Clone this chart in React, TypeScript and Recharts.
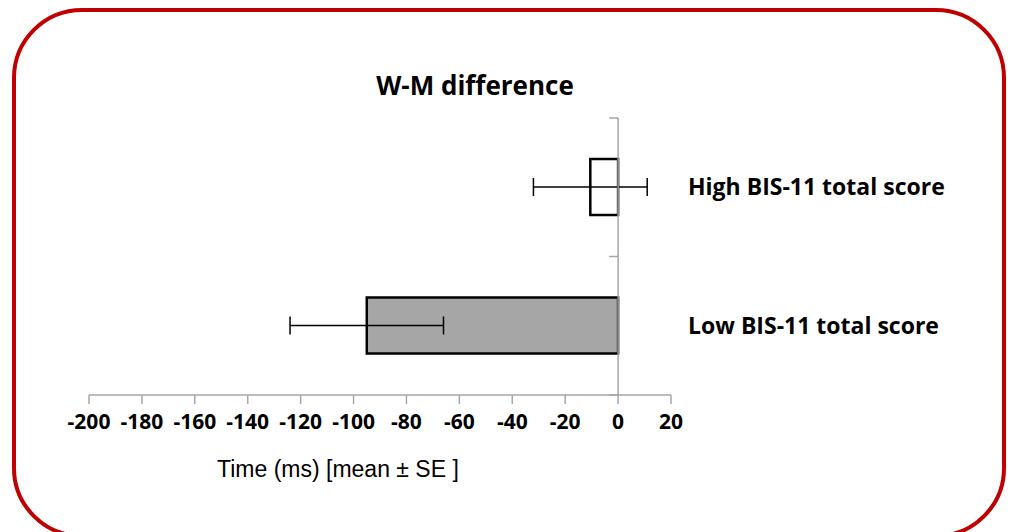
import { BarChart, Bar, XAxis, YAxis, ErrorBar, ReferenceLine, Cell } from "recharts";

const GROUPS = ["High BIS-11 total score", "Low BIS-11 total score"];
const MEANS = [-10.5, -95];
const SE = [21.5, 29];
const FILLS = ["#ffffff", "#a6a6a6"];
const X_TICKS = [-200, -180, -160, -140, -120, -100, -80, -60, -40, -20, 0, 20];

const data = GROUPS.map((name, i) => ({ name, mean: MEANS[i], se: SE[i] }));

const LABEL_FONT = "'Open Sans', 'DejaVu Sans', sans-serif";

// zero line with the small category-boundary ticks, Excel style
function ZeroAxis(props: any) {
  const { x1, y1, x2, y2 } = props;
  const mid = (y1 + y2) / 2;
  return (
    <g stroke="#a6a6a6" strokeWidth={1.5}>
      <line x1={x1} y1={y1} x2={x2} y2={y2} />
      {[y1, mid, y2].map((y, i) => (
        <line key={i} x1={x1 - 9} y1={y} x2={x1} y2={y} />
      ))}
    </g>
  );
}

export default function App() {
  return (
    <div style={{ position: "absolute", left: 0, top: 0, width: 1011, height: 532, background: "#fff", overflow: "hidden" }}>
      <div
        style={{
          position: "absolute",
          left: 12,
          top: 8,
          width: 986,
          height: 522,
          border: "4px solid #c00000",
          borderRadius: 70,
        }}
      />
      <div
        style={{
          position: "absolute",
          left: 275,
          top: 67,
          width: 400,
          textAlign: "center",
          fontFamily: LABEL_FONT,
          fontWeight: 700,
          fontSize: 26,
          color: "#000",
        }}
      >
        W-M difference
      </div>
      <div style={{ position: "absolute", left: 0, top: 0 }}>
        <BarChart
          width={1011}
          height={532}
          data={data}
          layout="vertical"
          margin={{ top: 118, right: 20, bottom: 97, left: 89 }}
          barSize={56}
        >
          <XAxis
            type="number"
            domain={[-200, 20]}
            ticks={X_TICKS}
            allowDataOverflow
            height={40}
            axisLine={{ stroke: "#a6a6a6", strokeWidth: 1.5 }}
            tickLine={{ stroke: "#a6a6a6", strokeWidth: 1.5 }}
            tickSize={9}
            tickMargin={10}
            tick={{ fill: "#000", fontSize: 21, fontWeight: 700, fontFamily: LABEL_FONT }}
            interval={0}
          />
          <YAxis
            type="category"
            dataKey="name"
            orientation="right"
            width={320}
            axisLine={false}
            tickLine={false}
            tickMargin={11}
            tick={{ fill: "#000", fontSize: 23, fontWeight: 700, fontFamily: LABEL_FONT, textAnchor: "start" }}
          />
          <Bar dataKey="mean" stroke="#000" strokeWidth={2.5} isAnimationActive={false}>
            {data.map((d, i) => (
              <Cell key={d.name} fill={FILLS[i]} />
            ))}
            <ErrorBar dataKey="se" direction="x" width={9} stroke="#000" strokeWidth={1.5} isAnimationActive={false} />
          </Bar>
          <ReferenceLine x={0} shape={ZeroAxis} />
        </BarChart>
      </div>
      <div
        style={{
          position: "absolute",
          left: 217,
          top: 456,
          fontFamily: "'Liberation Sans', Arial, sans-serif",
          fontSize: 23,
          color: "#000",
        }}
      >
        Time (ms) [mean ± SE ]
      </div>
    </div>
  );
}
